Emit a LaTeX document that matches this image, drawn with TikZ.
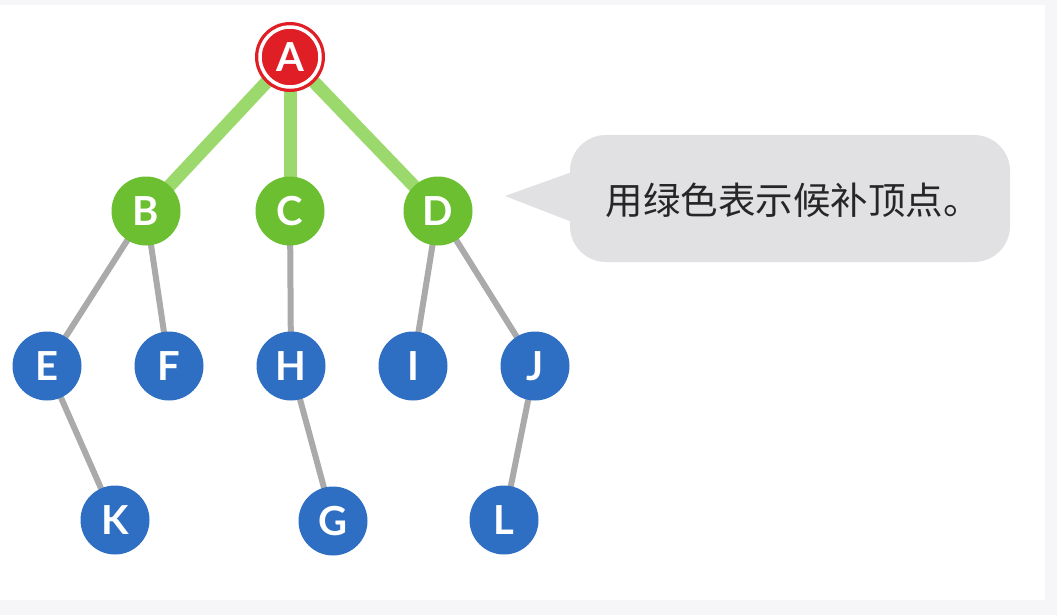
\documentclass[tikz,border=0pt]{standalone}
\usepackage{fontspec}
\setsansfont{Lato}
\newfontfamily\cjk{Noto Sans CJK SC}
\usetikzlibrary{backgrounds}
\definecolor{nred}{HTML}{E01E26}
\definecolor{ngreen}{HTML}{6BBF30}
\definecolor{eggreen}{HTML}{9CD96C}
\definecolor{nblue}{HTML}{2E6FC4}
\definecolor{egray}{HTML}{AAAAAA}
\definecolor{bubble}{HTML}{E1E0E3}
\definecolor{frame}{HTML}{F6F6F8}
\tikzset{
  vtx/.style={circle, minimum size=69pt, inner sep=0pt, text=white,
    font=\sffamily\bfseries\fontsize{40}{40}\selectfont},
  rootv/.style={vtx, fill=nred, minimum size=70pt},
  candv/.style={vtx, fill=ngreen},
  otherv/.style={vtx, fill=nblue},
  candedge/.style={eggreen, line width=13pt},
  treeedge/.style={egray, line width=6pt},
}
\begin{document}
\begin{tikzpicture}[x=1pt, y=-1pt]
\useasboundingbox (0,0) rectangle (1057,615);
\begin{scope}[on background layer]
\fill[frame] (0,0) rectangle (1057,615);
\fill[white] (0,5) rectangle (1045,600);
\end{scope}
% nodes
\node[rootv] (A) at (290,57) {A};
\draw[white, line width=3.5pt] (A.center) circle (30pt);
\node[candv] (B) at (146,211) {B};
\node[candv] (C) at (290,211) {C};
\node[candv] (D) at (438,211) {D};
\node[otherv] (E) at (47,366) {E};
\node[otherv] (F) at (169,366) {F};
\node[otherv] (H) at (291,366) {H};
\node[otherv] (I) at (413,366) {I};
\node[otherv] (J) at (535,366) {J};
\node[otherv] (K) at (115,520) {K};
\node[otherv] (G) at (333,521) {G};
\node[otherv] (L) at (504,520) {L};
% edges
\begin{scope}[on background layer]
\draw[candedge] (A.center) -- (B.center);
\draw[candedge] (A.center) -- (C.center);
\draw[candedge] (A.center) -- (D.center);
\draw[treeedge] (B.center) -- (E.center);
\draw[treeedge] (B.center) -- (F.center);
\draw[treeedge] (C.center) -- (H.center);
\draw[treeedge] (D.center) -- (I.center);
\draw[treeedge] (D.center) -- (J.center);
\draw[treeedge] (E.center) -- (K.center);
\draw[treeedge] (H.center) -- (G.center);
\draw[treeedge] (J.center) -- (L.center);
\end{scope}
% speech bubble
\fill[bubble, rounded corners=36pt] (570,135) rectangle (1010,262);
\fill[bubble] (572,172) -- (505,196) -- (572,222) -- cycle;
\node[font=\cjk\fontsize{37.5}{37.5}\selectfont, text=black!85] (note) at (793,200) {用绿色表示候补顶点。};
\end{tikzpicture}
\end{document}
